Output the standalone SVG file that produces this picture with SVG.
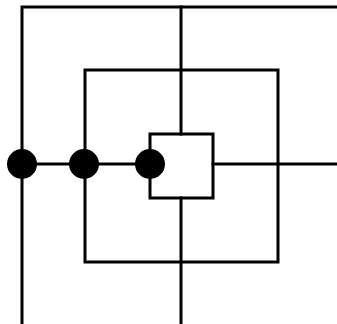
<svg xmlns="http://www.w3.org/2000/svg" width="337" height="324" viewBox="0 0 337 324">
<style>
.ln{fill:none;stroke:#000;stroke-width:3;stroke-linecap:square}
.dot{fill:#000}
</style>
<rect width="337" height="324" fill="#fff"/>
<g id="connectors" class="ln">
<path d="M22,324 V7 H337"/>
<path d="M181,7 V134"/>
<path d="M181,198 V324"/>
<rect x="85" y="70" width="193" height="192"/>
<rect x="150" y="134" width="63" height="64"/>
<path d="M22,164 H150"/>
<path d="M213,164 H337"/>
</g>
<g id="n1"><circle class="dot" cx="22" cy="164" r="15"/></g>
<g id="n2"><circle class="dot" cx="84" cy="164" r="15"/></g>
<g id="n3"><circle class="dot" cx="150" cy="164" r="15"/></g>
</svg>
